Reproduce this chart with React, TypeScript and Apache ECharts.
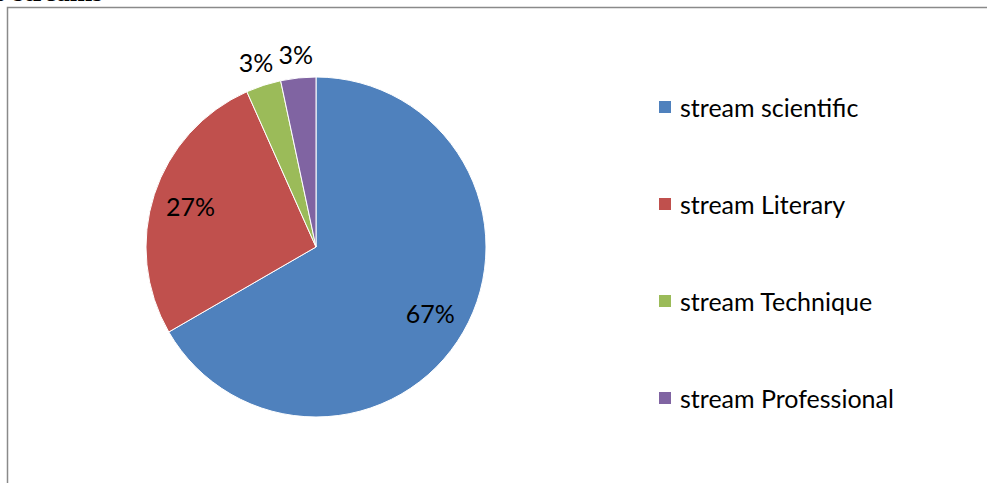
import React, { useEffect, useRef } from "react";
import * as echarts from "echarts";

const categories = ["stream scientific", "stream Literary", "stream Technique", "stream Professional"];
const counts = [20, 8, 1, 1];
const colors = ["#4F81BD", "#C0504D", "#9BBB59", "#8064A2"];
const titleText = "o streams";

const FONT = "Lato, 'Open Sans', sans-serif";

export default function App() {
  const ref = useRef<HTMLDivElement>(null);
  useEffect(() => {
    if (!ref.current) return;
    const chart = echarts.init(ref.current, undefined, { renderer: "svg" });
    const data = categories.map((n, i) => ({ name: n, value: counts[i], itemStyle: { color: colors[i] } }));
    const total = counts.reduce((a, b) => a + b, 0);
    const fmt = (p: any) => Math.round((p.value / total) * 100) + "%";
    const labelData = (big: boolean) =>
      categories.map((n, i) => ({
        name: n,
        value: counts[i],
        label: { show: big ? counts[i] / total > 0.1 : counts[i] / total <= 0.1 },
      }));
    chart.setOption({
      animation: false,
      backgroundColor: "#fff",
      graphic: [
        {
          type: "rect",
          shape: { x: 7.5, y: 7.5, width: 1000, height: 500 },
          style: { fill: "none", stroke: "#8a8a8a", lineWidth: 1.5 },
          silent: true,
        },
        {
          type: "text",
          x: -7,
          y: -8,
          style: {
            text: titleText,
            font: "bold 27px 'Liberation Serif', serif",
            fill: "#000",
            verticalAlign: "middle",
            align: "left",
          },
          silent: true,
        },
      ],
      legend: {
        orient: "vertical",
        left: 657,
        top: 94,
        padding: 0,
        itemWidth: 14,
        itemHeight: 14,
        itemGap: 71,
        icon: "rect",
        selectedMode: false,
        data: categories.map((n, i) => ({ name: n, icon: "rect", itemStyle: { color: colors[i] } })),
        textStyle: { fontFamily: FONT, fontSize: 25, color: "#000", lineHeight: 26, padding: [0, 0, 0, 3] },
      },
      series: [
        {
          type: "pie",
          center: [316, 247],
          radius: [0, 170],
          startAngle: 90,
          clockwise: true,
          data,
          label: { show: false },
          labelLine: { show: false },
          itemStyle: { borderColor: "#fff", borderWidth: 1 },
          emphasis: { disabled: true },
        },
        {
          type: "pie",
          center: [316, 247],
          radius: [88, 170],
          startAngle: 90,
          silent: true,
          data: labelData(true),
          itemStyle: { color: "transparent" },
          label: { position: "inside", formatter: fmt, fontFamily: FONT, fontSize: 25, color: "#000" },
          labelLine: { show: false },
          emphasis: { disabled: true },
        },
        {
          type: "pie",
          center: [316, 247],
          radius: [170, 212],
          startAngle: 90,
          silent: true,
          data: labelData(false),
          itemStyle: { color: "transparent" },
          label: { position: "inside", formatter: fmt, fontFamily: FONT, fontSize: 25, color: "#000" },
          labelLine: { show: false },
          emphasis: { disabled: true },
        },
      ],
    });
    return () => chart.dispose();
  }, []);
  return <div ref={ref} style={{ position: "fixed", left: 0, top: 0, width: 987, height: 483 }} />;
}
